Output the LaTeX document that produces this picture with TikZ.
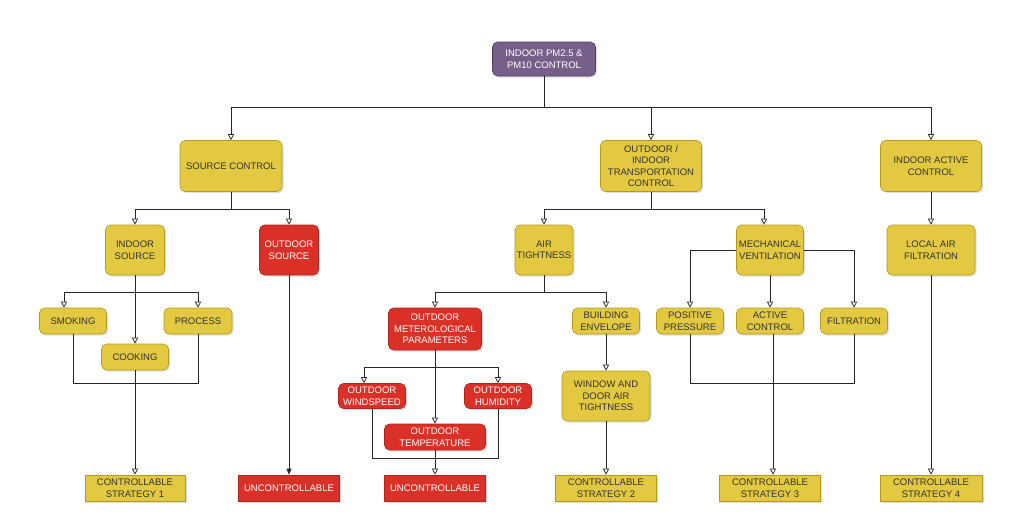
\documentclass[tikz,border=0pt]{standalone}
\usepackage{fontspec}
\setmainfont{Liberation Sans}
\usetikzlibrary{arrows.meta,shadows}
\definecolor{yel}{HTML}{E3C941}
\definecolor{yelb}{HTML}{B39A1A}
\definecolor{redf}{HTML}{D93127}
\definecolor{redb}{HTML}{B0241C}
\definecolor{purf}{HTML}{76608A}
\definecolor{purb}{HTML}{4E3F60}
\tikzset{
 base/.style={draw,line width=0.6pt,align=center,inner sep=0pt,font=\fontsize{9.5}{11.5}\selectfont,
   drop shadow={shadow xshift=1.5pt,shadow yshift=-1.5pt,opacity=0.25}},
 Y/.style={base,fill=yel,draw=yelb,rounded corners=5pt,text=black!80},
 R/.style={base,fill=redf,draw=redb,rounded corners=5pt,text=white},
 YS/.style={Y,rounded corners=0pt},
 RS/.style={R,rounded corners=0pt},
 P/.style={base,fill=purf,draw=purb,rounded corners=5pt,text=white},
 ln/.style={draw=black!85,line width=0.7pt},
 ar/.style={ln,-{Triangle[open,fill=white,length=6pt,width=6pt]}},
 af/.style={ln,-{Triangle[length=6pt,width=5pt]}},
}
\newcommand{\bx}[6]{\node[#1,minimum width=#4pt,minimum height=#5pt] (#6) at (#2,#3) {};}
\begin{document}
\begin{tikzpicture}[x=1pt,y=-1pt]
\useasboundingbox (0,0) rectangle (1024,523);
\node[P,minimum width=103pt,minimum height=34pt] (top) at (544,59) {INDOOR PM2.5 \&\\PM10 CONTROL};
\node[Y,minimum width=102pt,minimum height=51pt] (sc) at (231,166) {SOURCE CONTROL};
\node[Y,minimum width=101pt,minimum height=51pt] (tc) at (651,166) {OUTDOOR /\\INDOOR\\TRANSPORTATION\\CONTROL};
\node[Y,minimum width=101pt,minimum height=51pt] (ac) at (931,166) {INDOOR ACTIVE\\CONTROL};
\node[Y,minimum width=59pt,minimum height=50pt] (is) at (135,250) {INDOOR\\SOURCE};
\node[R,minimum width=59pt,minimum height=50pt] (os) at (289,250) {OUTDOOR\\SOURCE};
\node[Y,minimum width=67pt,minimum height=26pt] (sm) at (73,321) {SMOKING};
\node[Y,minimum width=68pt,minimum height=26pt] (pr) at (198,321) {PROCESS};
\node[Y,minimum width=67pt,minimum height=26pt] (co) at (135,357) {COOKING};
\node[YS,minimum width=100pt,minimum height=26pt] (cs1) at (135,488) {CONTROLLABLE\\STRATEGY 1};
\node[RS,minimum width=101pt,minimum height=26pt] (u1) at (289,488) {UNCONTROLLABLE};
\node[Y,minimum width=58pt,minimum height=50pt] (at) at (544,250) {AIR\\TIGHTNESS};
\node[Y,minimum width=67pt,minimum height=50pt] (mv) at (770,250) {MECHANICAL\\VENTILATION};
\node[R,minimum width=93pt,minimum height=42pt] (mp) at (435,329) {OUTDOOR\\METEROLOGICAL\\PARAMETERS};
\node[Y,minimum width=67pt,minimum height=26pt] (be) at (606,321) {BUILDING\\ENVELOPE};
\node[R,minimum width=67pt,minimum height=25pt] (ws) at (372,396) {OUTDOOR\\WINDSPEED};
\node[R,minimum width=67pt,minimum height=25pt] (hu) at (498,396) {OUTDOOR\\HUMIDITY};
\node[R,minimum width=101pt,minimum height=26pt] (te) at (435,437) {OUTDOOR\\TEMPERATURE};
\node[RS,minimum width=101pt,minimum height=26pt] (u2) at (435,488) {UNCONTROLLABLE};
\node[Y,minimum width=88pt,minimum height=50pt] (wd) at (606,396) {WINDOW AND\\DOOR AIR\\TIGHTNESS};
\node[YS,minimum width=101pt,minimum height=26pt] (cs2) at (606,488) {CONTROLLABLE\\STRATEGY 2};
\node[Y,minimum width=67pt,minimum height=26pt] (pp) at (690,321) {POSITIVE\\PRESSURE};
\node[Y,minimum width=67pt,minimum height=26pt] (acn) at (770,321) {ACTIVE\\CONTROL};
\node[Y,minimum width=67pt,minimum height=26pt] (fi) at (854,321) {FILTRATION};
\node[YS,minimum width=101pt,minimum height=26pt] (cs3) at (770,488) {CONTROLLABLE\\STRATEGY 3};
\node[Y,minimum width=88pt,minimum height=50pt] (la) at (931,250) {LOCAL AIR\\FILTRATION};
\node[YS,minimum width=102pt,minimum height=26pt] (cs4) at (931,488) {CONTROLLABLE\\STRATEGY 4};
% level 1
\draw[ar] (top.south) -- (544,107) -| (sc.north);
\draw[ar] (544,107) -| (tc.north);
\draw[ar] (544,107) -| (ac.north);
% source control
\draw[ar] (sc.south) -- (231,209) -| (is.north);
\draw[ar] (231,209) -| (os.north);
\draw[ar] (is.south) -- (co.north);
\draw[ar] (135,292) -| (sm.north-|64,0);
\draw[ar] (135,292) -| (pr.north);
\draw[ln] (sm.south) -- (73,383) -| (pr.south);
\draw[ar] (co.south) -- (cs1.north);
\draw[af] (os.south) -- (u1.north);
% transport
\draw[ar] (tc.south) -- (651,209) -| (at.north);
\draw[ar] (651,209) -| (mv.north-|764,0);
\draw[ar] (at.south) -- (544,292) -| (mp.north);
\draw[ar] (544,292) -| (be.north);
\draw[ar] (mp.south) -- (te.north);
\draw[ar] (435,367) -| (ws.north-|364,0);
\draw[ar] (435,367) -| (hu.north);
\draw[ln] (ws.south) -- (372,458) -| (hu.south);
\draw[ar] (te.south) -- (u2.north);
\draw[ar] (be.south) -- (wd.north);
\draw[ar] (wd.south) -- (cs2.north);
\draw[ar] (mv.west) -| (pp.north);
\draw[ar] (mv.east) -| (fi.north);
\draw[ar] (mv.south) -- (acn.north);
\draw[ln] (pp.south) -- (690,383) -| (fi.south);
\draw[ar] (acn.south-|773,0) -- (cs3.north-|773,0);
% active
\draw[ar] (ac.south) -- (la.north);
\draw[ar] (la.south) -- (cs4.north);
\end{tikzpicture}
\end{document}
